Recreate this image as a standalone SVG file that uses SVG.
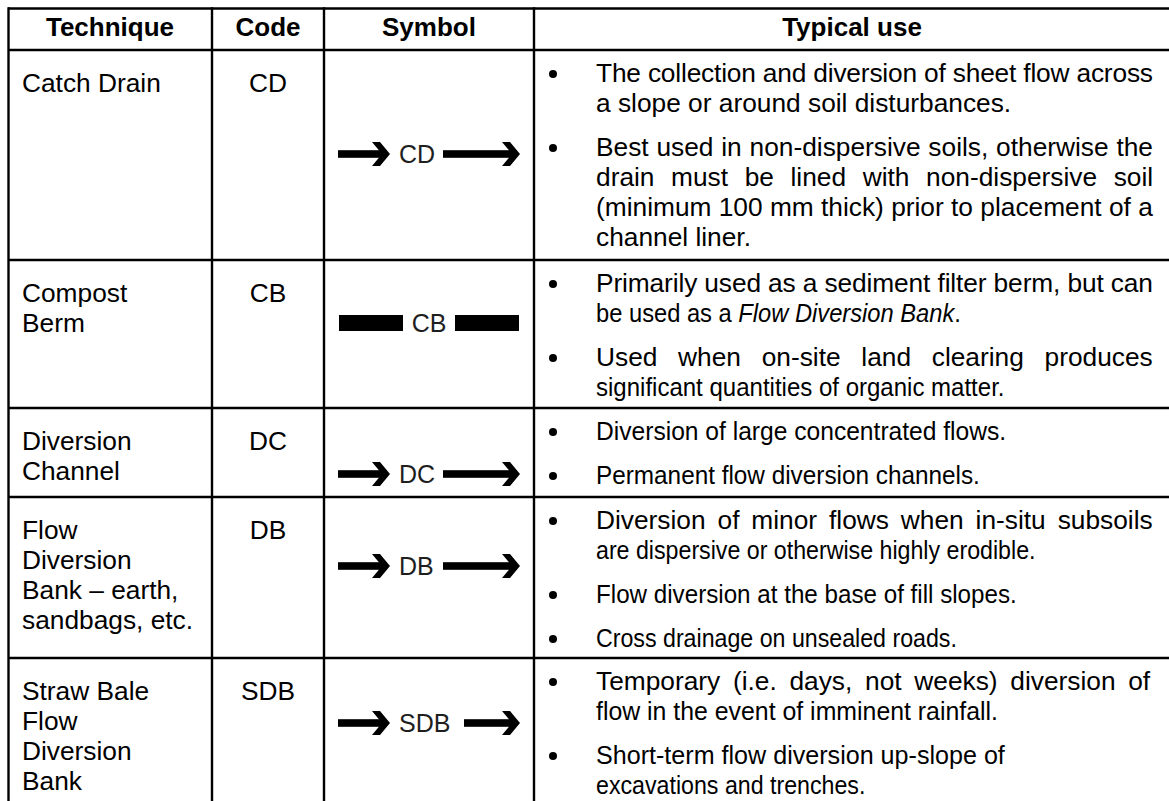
<svg xmlns="http://www.w3.org/2000/svg" width="1169" height="801" viewBox="0 0 1169 801">
<style>
text{font-family:"Liberation Sans",Arial,sans-serif;fill:#000}
.h{font-size:26px;font-weight:bold;text-anchor:middle}
.b{font-size:26.3px}
.t{font-size:25.5px}
.c{font-size:26.3px;text-anchor:middle}
.s{font-size:25px;fill:#1e1e1e}
.g line{stroke:#000;stroke-width:2.4}
.bul{fill:#000}
</style>
<defs>
<g id="arr"><rect x="-52" y="-3.8" width="44" height="7.6"/><polygon points="-18,-12 -10,-12 0,0 -10,12 -18,12 -8,0"/></g>
<g id="arrL"><rect x="-77" y="-3.8" width="69" height="7.6"/><polygon points="-18,-12 -10,-12 0,0 -10,12 -18,12 -8,0"/></g>
<g id="arrM"><rect x="-56" y="-3.8" width="48" height="7.6"/><polygon points="-18,-12 -10,-12 0,0 -10,12 -18,12 -8,0"/></g>
</defs>
<rect width="1169" height="801" fill="#fff"/>
<g id="grid" class="g">
<line x1="8" y1="8.5" x2="1169" y2="8.5"/>
<line x1="8" y1="50" x2="1169" y2="50"/>
<line x1="8" y1="260" x2="1169" y2="260"/>
<line x1="8" y1="408" x2="1169" y2="408"/>
<line x1="8" y1="497" x2="1169" y2="497"/>
<line x1="8" y1="658" x2="1169" y2="658"/>
<line x1="8.5" y1="7.3" x2="8.5" y2="801"/>
<line x1="212" y1="7.3" x2="212" y2="801"/>
<line x1="324" y1="7.3" x2="324" y2="801"/>
<line x1="534" y1="7.3" x2="534" y2="801"/>
</g>
<g id="header">
<text class="h" x="110" y="36">Technique</text>
<text class="h" x="268" y="36">Code</text>
<text class="h" x="429" y="36">Symbol</text>
<text class="h" x="852" y="36">Typical use</text>
</g>
<g id="row-cd">
<text class="b" x="22" y="92">Catch Drain</text>
<text class="c" x="268" y="92">CD</text>
<use href="#arr" x="390" y="154"/>
<text class="s" x="399" y="163">CD</text>
<use href="#arrL" x="520" y="154"/>
<circle class="bul" cx="553" cy="74" r="4"/>
<text class="b" x="596" y="82" textLength="557" lengthAdjust="spacing">The collection and diversion of sheet flow across</text>
<text class="b" x="596" y="112">a slope or around soil disturbances.</text>
<circle class="bul" cx="553" cy="148" r="4"/>
<text class="b" x="596" y="156" word-spacing="0.5">Best used in non-dispersive soils, otherwise the</text>
<text class="b" x="596" y="186" word-spacing="9.3">drain must be lined with non-dispersive soil</text>
<text class="b" x="596" y="216">(minimum 100 mm thick) prior to placement of a</text>
<text class="b" x="596" y="246">channel liner.</text>
</g>
<g id="row-cb">
<text class="b" x="22" y="302">Compost</text>
<text class="b" x="22" y="332">Berm</text>
<text class="c" x="268" y="302">CB</text>
<rect x="339" y="315" width="64" height="16"/>
<text class="s" x="429" y="331.5" text-anchor="middle">CB</text>
<rect x="455" y="315" width="64" height="16"/>
<circle class="bul" cx="553" cy="284" r="4"/>
<text class="b" x="596" y="292" textLength="557" lengthAdjust="spacing">Primarily used as a sediment filter berm, but can</text>
<text class="t" transform="translate(596 322) scale(0.93 1)">be used as a <tspan font-style="italic">Flow Diversion Bank</tspan>.</text>
<circle class="bul" cx="553" cy="358" r="4"/>
<text class="b" x="596" y="366" word-spacing="13.4">Used when on-site land clearing produces</text>
<text class="t" transform="translate(596 396) scale(0.942 1)">significant quantities of organic matter.</text>
</g>
<g id="row-dc">
<text class="b" x="22" y="450">Diversion</text>
<text class="b" x="22" y="480">Channel</text>
<text class="c" x="268" y="450">DC</text>
<use href="#arr" x="390" y="474"/>
<text class="s" x="399" y="483">DC</text>
<use href="#arrL" x="520" y="474"/>
<circle class="bul" cx="553" cy="432" r="4"/>
<text class="t" transform="translate(596 440) scale(0.965 1)">Diversion of large concentrated flows.</text>
<circle class="bul" cx="553" cy="476" r="4"/>
<text class="t" transform="translate(596 484) scale(0.954 1)">Permanent flow diversion channels.</text>
</g>
<g id="row-db">
<text class="b" x="22" y="539">Flow</text>
<text class="b" x="22" y="569">Diversion</text>
<text class="b" x="22" y="599">Bank – earth,</text>
<text class="b" x="22" y="629">sandbags, etc.</text>
<text class="c" x="268" y="539">DB</text>
<use href="#arr" x="390" y="566"/>
<text class="s" x="399" y="575">DB</text>
<use href="#arrL" x="520" y="566"/>
<circle class="bul" cx="553" cy="521" r="4"/>
<text class="b" x="596" y="529" word-spacing="4.6">Diversion of minor flows when in-situ subsoils</text>
<text class="t" transform="translate(596 559) scale(0.91 1)">are dispersive or otherwise highly erodible.</text>
<circle class="bul" cx="553" cy="595" r="4"/>
<text class="t" transform="translate(596 603) scale(0.949 1)">Flow diversion at the base of fill slopes.</text>
<circle class="bul" cx="553" cy="639" r="4"/>
<text class="t" transform="translate(596 647) scale(0.91 1)">Cross drainage on unsealed roads.</text>
</g>
<g id="row-sdb">
<text class="b" x="22" y="700">Straw Bale</text>
<text class="b" x="22" y="730">Flow</text>
<text class="b" x="22" y="760">Diversion</text>
<text class="b" x="22" y="790">Bank</text>
<text class="c" x="268" y="700">SDB</text>
<use href="#arr" x="390" y="723"/>
<text class="s" x="399" y="732">SDB</text>
<use href="#arrM" x="520" y="723"/>
<circle class="bul" cx="553" cy="682" r="4"/>
<text class="b" x="596" y="690" word-spacing="5.4">Temporary (i.e. days, not weeks) diversion of</text>
<text class="t" transform="translate(596 720) scale(0.975 1)">flow in the event of imminent rainfall.</text>
<circle class="bul" cx="553" cy="756" r="4"/>
<text class="t" transform="translate(596 764) scale(0.985 1)">Short-term flow diversion up-slope of</text>
<text class="t" transform="translate(596 794) scale(0.91 1)">excavations and trenches.</text>
</g>
</svg>
